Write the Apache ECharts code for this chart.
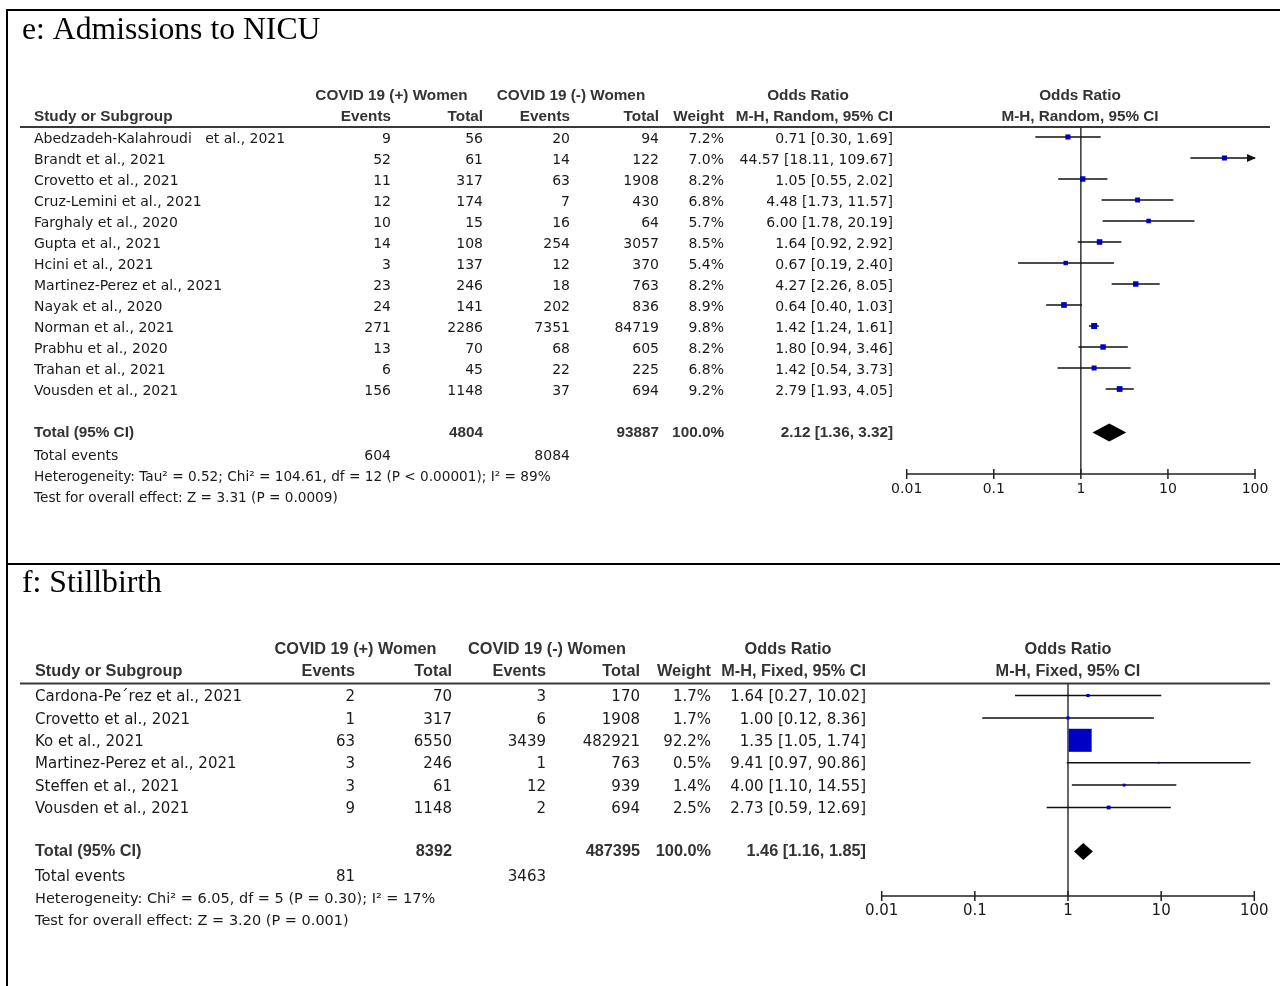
<!DOCTYPE html>
<html>
<head>
<meta charset="utf-8">
<title>Forest plots: NICU admissions and stillbirth</title>
<style>
  html, body { margin: 0; padding: 0; background: #fff; }
  #chart { width: 1280px; height: 986px; }
</style>
<script src="https://cdn.jsdelivr.net/npm/echarts@6/dist/echarts.min.js"></script>
</head>
<body>
<div id="chart"></div>
<script>
// ---------- e: Admissions to NICU (M-H, Random) ----------
const studiesE = [
  'Abedzadeh-Kalahroudi   et al., 2021', 'Brandt et al., 2021', 'Crovetto et al., 2021',
  'Cruz-Lemini et al., 2021', 'Farghaly et al., 2020', 'Gupta et al., 2021', 'Hcini et al., 2021',
  'Martinez-Perez et al., 2021', 'Nayak et al., 2020', 'Norman et al., 2021', 'Prabhu et al., 2020',
  'Trahan et al., 2021', 'Vousden et al., 2021'
];
const eventsPosE = [9, 52, 11, 12, 10, 14, 3, 23, 24, 271, 13, 6, 156];
const totalPosE  = [56, 61, 317, 174, 15, 108, 137, 246, 141, 2286, 70, 45, 1148];
const eventsNegE = [20, 14, 63, 7, 16, 254, 12, 18, 202, 7351, 68, 22, 37];
const totalNegE  = [94, 122, 1908, 430, 64, 3057, 370, 763, 836, 84719, 605, 225, 694];
const weightE    = [7.2, 7.0, 8.2, 6.8, 5.7, 8.5, 5.4, 8.2, 8.9, 9.8, 8.2, 6.8, 9.2];
const orE        = [0.71, 44.57, 1.05, 4.48, 6.00, 1.64, 0.67, 4.27, 0.64, 1.42, 1.80, 1.42, 2.79];
const loE        = [0.30, 18.11, 0.55, 1.73, 1.78, 0.92, 0.19, 2.26, 0.40, 1.24, 0.94, 0.54, 1.93];
const hiE        = [1.69, 109.67, 2.02, 11.57, 20.19, 2.92, 2.40, 8.05, 1.03, 1.61, 3.46, 3.73, 4.05];
const pooledE    = { or: 2.12, lo: 1.36, hi: 3.32, totalPos: 4804, totalNeg: 93887, eventsPos: 604, eventsNeg: 8084 };
const hetE  = 'Heterogeneity: Tau\u00b2 = 0.52; Chi\u00b2 = 104.61, df = 12 (P < 0.00001); I\u00b2 = 89%';
const testE = 'Test for overall effect: Z = 3.31 (P = 0.0009)';

// ---------- f: Stillbirth (M-H, Fixed) ----------
const studiesF = [
  'Cardona-Pe\u00b4rez et al., 2021', 'Crovetto et al., 2021', 'Ko et al., 2021',
  'Martinez-Perez et al., 2021', 'Steffen et al., 2021', 'Vousden et al., 2021'
];
const eventsPosF = [2, 1, 63, 3, 3, 9];
const totalPosF  = [70, 317, 6550, 246, 61, 1148];
const eventsNegF = [3, 6, 3439, 1, 12, 2];
const totalNegF  = [170, 1908, 482921, 763, 939, 694];
const weightF    = [1.7, 1.7, 92.2, 0.5, 1.4, 2.5];
const orF        = [1.64, 1.00, 1.35, 9.41, 4.00, 2.73];
const loF        = [0.27, 0.12, 1.05, 0.97, 1.10, 0.59];
const hiF        = [10.02, 8.36, 1.74, 90.86, 14.55, 12.69];
const pooledF    = { or: 1.46, lo: 1.16, hi: 1.85, totalPos: 8392, totalNeg: 487395, eventsPos: 81, eventsNeg: 3463 };
const hetF  = 'Heterogeneity: Chi\u00b2 = 6.05, df = 5 (P = 0.30); I\u00b2 = 17%';
const testF = 'Test for overall effect: Z = 3.20 (P = 0.001)';

// ---------- shared axis ----------
const axisTicks  = [0.01, 0.1, 1, 10, 100];
const tickLabels = ['0.01', '0.1', '1', '10', '100'];
const OR_MIN = 0.01, OR_MAX = 100;

// ---------- layout (pixels) ----------
const BODY = '"DejaVu Sans", Verdana, sans-serif';
const BOLD = '"Liberation Sans", Arial, sans-serif';
const SERIF = '"Liberation Serif", "Times New Roman", serif';
const TEXT = '#1a1a1a', HEAD = '#333333', BOX = '#0000c4', INK = '#111111';

const panels = [
  {
    title: 'e: Admissions to NICU', titleY: 31, method: 'M-H, Random, 95% CI',
    h1: 96, h2: 117, rule: 127, row0: 137, step: 21, textDy: 2.5,
    totalY: 432.5, eventsY: 456, hetY: 477, testY: 498,
    axisY: 474, axisLeft: 906.7, axisRight: 1255,
    cols: { name: 34, ev1: 391, tot1: 483, ev2: 570, tot2: 659, wt: 724, ci: 893 },
    grp1: 391.5, grp2: 571, orHead: 808, plotHead: 1080,
    fs: 14, hs: 15.3, ns: 13.65, sq: 1.9, dh: 18,
    studies: studiesE, evPos: eventsPosE, totPos: totalPosE, evNeg: eventsNegE, totNeg: totalNegE,
    weight: weightE, or: orE, lo: loE, hi: hiE, pooled: pooledE, het: hetE, test: testE
  },
  {
    title: 'f: Stillbirth', titleY: 584, method: 'M-H, Fixed, 95% CI',
    h1: 650, h2: 672, rule: 683.5, row0: 695.5, step: 22.4, textDy: 1.8,
    totalY: 851.5, eventsY: 877, hetY: 899, testY: 921,
    axisY: 896, axisLeft: 881.7, axisRight: 1254.3,
    cols: { name: 35, ev1: 355, tot1: 452, ev2: 546, tot2: 640, wt: 711, ci: 866 },
    grp1: 355.5, grp2: 547, orHead: 788, plotHead: 1068,
    fs: 15, hs: 16.3, ns: 14.5, sq: 2.4, dh: 17,
    studies: studiesF, evPos: eventsPosF, totPos: totalPosF, evNeg: eventsNegF, totNeg: totalNegF,
    weight: weightF, or: orF, lo: loF, hi: hiF, pooled: pooledF, het: hetF, test: testF
  }
];

const fmtCI = (o, l, h) => o.toFixed(2) + ' [' + l.toFixed(2) + ', ' + h.toFixed(2) + ']';

function txt(x, y, text, align, fs, bold, color, family) {
  return {
    type: 'text', x: x, y: y, silent: true,
    style: {
      text: text, fill: color || TEXT,
      fontSize: fs, fontFamily: family || (bold ? BOLD : BODY), fontWeight: bold ? 'bold' : 'normal',
      align: align, verticalAlign: 'middle',
      textAlign: align, textVerticalAlign: 'middle'
    }
  };
}
function hline(x1, x2, y, w, color) {
  return { type: 'line', silent: true, shape: { x1: x1, y1: y, x2: x2, y2: y },
           style: { stroke: color || '#000', lineWidth: w } };
}

// Frame around both panels
const graphics = [
  hline(6, 1280, 10, 2, '#000'),
  hline(6, 1280, 564, 2, '#000'),
  { type: 'line', silent: true, shape: { x1: 7, y1: 9, x2: 7, y2: 986 }, style: { stroke: '#000', lineWidth: 2 } }
];

const grids = [], xAxes = [], yAxes = [], series = [];

panels.forEach((p, k) => {
  const c = p.cols, fs = p.fs, hs = p.hs;
  // Title and header
  graphics.push(txt(22, p.titleY, p.title, 'left', 31.7, false, '#000', SERIF));
  graphics.push(txt(p.grp1, p.h1, 'COVID 19 (+) Women', 'center', hs, true, HEAD));
  graphics.push(txt(p.grp2, p.h1, 'COVID 19 (-) Women', 'center', hs, true, HEAD));
  graphics.push(txt(p.orHead, p.h1, 'Odds Ratio', 'center', hs, true, HEAD));
  graphics.push(txt(p.plotHead, p.h1, 'Odds Ratio', 'center', hs, true, HEAD));
  graphics.push(txt(c.name, p.h2, 'Study or Subgroup', 'left', hs, true, HEAD));
  graphics.push(txt(c.ev1, p.h2, 'Events', 'right', hs, true, HEAD));
  graphics.push(txt(c.tot1, p.h2, 'Total', 'right', hs, true, HEAD));
  graphics.push(txt(c.ev2, p.h2, 'Events', 'right', hs, true, HEAD));
  graphics.push(txt(c.tot2, p.h2, 'Total', 'right', hs, true, HEAD));
  graphics.push(txt(c.wt, p.h2, 'Weight', 'right', hs, true, HEAD));
  graphics.push(txt(c.ci, p.h2, p.method, 'right', hs, true, HEAD));
  graphics.push(txt(p.plotHead, p.h2, p.method, 'center', hs, true, HEAD));
  graphics.push(hline(20, 1270, p.rule, 2, '#3a3a3a'));

  // Study rows
  p.studies.forEach((s, i) => {
    const y = p.row0 + i * p.step + p.textDy;
    graphics.push(txt(c.name, y, s, 'left', fs));
    graphics.push(txt(c.ev1, y, String(p.evPos[i]), 'right', fs));
    graphics.push(txt(c.tot1, y, String(p.totPos[i]), 'right', fs));
    graphics.push(txt(c.ev2, y, String(p.evNeg[i]), 'right', fs));
    graphics.push(txt(c.tot2, y, String(p.totNeg[i]), 'right', fs));
    graphics.push(txt(c.wt, y, p.weight[i].toFixed(1) + '%', 'right', fs));
    graphics.push(txt(c.ci, y, fmtCI(p.or[i], p.lo[i], p.hi[i]), 'right', fs));
  });

  // Totals and footnotes
  const ty = p.totalY + 0.5;
  const wSum = p.weight.reduce((a, b) => a + b, 0);
  graphics.push(txt(c.name, ty, 'Total (95% CI)', 'left', hs, true, HEAD));
  graphics.push(txt(c.tot1, ty, String(p.pooled.totalPos), 'right', hs, true, HEAD));
  graphics.push(txt(c.tot2, ty, String(p.pooled.totalNeg), 'right', hs, true, HEAD));
  graphics.push(txt(c.wt, ty, Math.round(wSum).toFixed(1) + '%', 'right', hs, true, HEAD));
  graphics.push(txt(c.ci, ty, fmtCI(p.pooled.or, p.pooled.lo, p.pooled.hi), 'right', hs, true, HEAD));
  graphics.push(txt(c.name, p.eventsY, 'Total events', 'left', fs));
  graphics.push(txt(c.ev1, p.eventsY, String(p.pooled.eventsPos), 'right', fs));
  graphics.push(txt(c.ev2, p.eventsY, String(p.pooled.eventsNeg), 'right', fs));
  graphics.push(txt(c.name, p.hetY, p.het, 'left', p.ns));
  graphics.push(txt(c.name, p.testY, p.test, 'left', p.ns));

  // Plot grid: x = odds ratio (log), y = row index mapped onto the table rows
  const yMin = (p.rule - p.row0) / p.step;
  const yMax = (p.axisY - p.row0) / p.step;
  const totalRow = (p.totalY - p.row0) / p.step;
  grids.push({ left: p.axisLeft, top: p.rule, width: p.axisRight - p.axisLeft, height: p.axisY - p.rule,
               containLabel: false, outerBoundsMode: 'none' });
  xAxes.push({
    gridIndex: k, type: 'log', logBase: 10, min: OR_MIN, max: OR_MAX,
    axisLine: { show: true, onZero: false, lineStyle: { color: '#222', width: 1.5 } },
    axisTick: { show: false }, splitLine: { show: false }, minorTick: { show: false },
    axisLabel: {
      show: true, margin: 8, fontSize: fs, fontFamily: BODY, color: TEXT,
      showMinLabel: true, showMaxLabel: true, hideOverlap: false,
      formatter: v => tickLabels[axisTicks.findIndex(t => Math.abs(Math.log10(t) - Math.log10(v)) < 1e-6)] || ''
    }
  });
  yAxes.push({ gridIndex: k, type: 'value', inverse: true, min: yMin, max: yMax, show: false,
               splitLine: { show: false } });

  // Line of no effect
  series.push({
    type: 'line', xAxisIndex: k, yAxisIndex: k, symbol: 'none', silent: true, z: 1,
    lineStyle: { color: '#333', width: 1.5 }, data: [[1, yMin], [1, yMax]]
  });

  // Ticks crossing the axis line
  series.push({
    type: 'custom', xAxisIndex: k, yAxisIndex: k, silent: true, z: 3,
    data: axisTicks.map(t => [t, yMax]),
    renderItem: (params, api) => {
      const pt = api.coord([api.value(0), api.value(1)]);
      return { type: 'line', shape: { x1: pt[0], y1: pt[1] - 5, x2: pt[0], y2: pt[1] + 5 },
               style: { stroke: '#222', lineWidth: 1.5 } };
    }
  });

  // Study estimates: CI whisker + weighted square (+ arrow when CI runs past the axis)
  const sqK = p.sq;
  series.push({
    type: 'custom', xAxisIndex: k, yAxisIndex: k, silent: true, z: 4,
    data: p.or.map((o, i) => [o, p.lo[i], p.hi[i], p.weight[i], i]),
    renderItem: (params, api) => {
      const o = api.value(0), lo = api.value(1), hi = api.value(2), w = api.value(3), row = api.value(4);
      const a = api.coord([Math.max(lo, OR_MIN), row]);
      const b = api.coord([Math.min(hi, OR_MAX), row]);
      const m = api.coord([o, row]);
      const s = sqK * Math.sqrt(w);
      const kids = [
        { type: 'line', shape: { x1: a[0], y1: a[1], x2: b[0], y2: b[1] }, style: { stroke: INK, lineWidth: 1.5 } },
        { type: 'rect', shape: { x: m[0] - s / 2, y: m[1] - s / 2, width: s, height: s }, style: { fill: BOX } }
      ];
      if (hi > OR_MAX) {
        kids.push({ type: 'polygon', shape: { points: [[b[0] + 1, b[1]], [b[0] - 8, b[1] - 4], [b[0] - 8, b[1] + 4]] },
                    style: { fill: INK } });
      }
      return { type: 'group', children: kids };
    }
  });

  // Pooled estimate diamond
  const dh = p.dh;
  series.push({
    type: 'custom', xAxisIndex: k, yAxisIndex: k, silent: true, z: 4,
    data: [[p.pooled.or, p.pooled.lo, p.pooled.hi, totalRow]],
    renderItem: (params, api) => {
      const row = api.value(3);
      const l = api.coord([api.value(1), row]);
      const r = api.coord([api.value(2), row]);
      const m = api.coord([api.value(0), row]);
      return { type: 'polygon',
               shape: { points: [[l[0], l[1]], [m[0], m[1] - dh / 2], [r[0], r[1]], [m[0], m[1] + dh / 2]] },
               style: { fill: '#000' } };
    }
  });
});

const chart = echarts.init(document.getElementById('chart'), null, { renderer: 'canvas', width: 1280, height: 986 });
chart.setOption({
  animation: false,
  backgroundColor: '#ffffff',
  grid: grids,
  xAxis: xAxes,
  yAxis: yAxes,
  series: series,
  graphic: { elements: graphics }
});
</script>
</body>
</html>
